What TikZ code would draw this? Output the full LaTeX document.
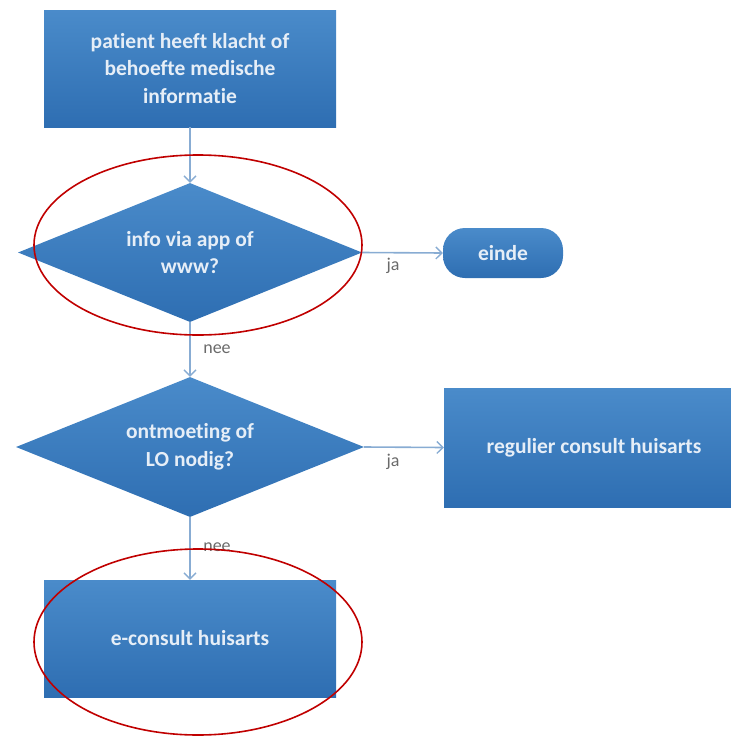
\documentclass[tikz,border=0pt]{standalone}
\usepackage{fontspec}
\setmainfont[Ligatures=NoCommon]{Carlito}
\usetikzlibrary{shapes.geometric,arrows.meta}
\definecolor{boxtop}{HTML}{4A8BCA}
\definecolor{boxbot}{HTML}{2E6EB2}
\definecolor{linec}{HTML}{88ACD3}
\definecolor{labc}{HTML}{6A6A6A}
\definecolor{txtc}{HTML}{E6EEF7}
\definecolor{ringc}{HTML}{C00000}
\tikzset{
  blk/.style={draw=none, top color=boxtop, bottom color=boxbot, text=txtc,
    font=\fontsize{21.5}{27.5}\selectfont\bfseries, align=center, inner sep=0pt},
  rectbox/.style={blk, rectangle},
  decbox/.style={blk, diamond, aspect=2.45},
  endbox/.style={blk, rectangle, rounded corners=22pt},
  conn/.style={draw=linec, line width=1.6pt, -{Straight Barb[length=6pt,width=12pt,line width=1.4pt]}},
  lab/.style={text=labc, font=\fontsize{18}{20}\selectfont, inner sep=0pt},
  ring/.style={draw=ringc, line width=1.6pt}
}
\begin{document}
\begin{tikzpicture}[x=1pt,y=-1pt]
\useasboundingbox (0,0) rectangle (731,737);
\clip (0,0) rectangle (731,737);
\node[rectbox, minimum width=292pt, minimum height=117pt] (start) at (190,68.5) {patient heeft klacht of\\behoefte medische\\informatie};
\node[decbox, minimum width=344pt, minimum height=139pt] (d1) at (190,252.5) {info via app of\\www?};
\node[endbox, minimum width=120pt, minimum height=50pt] (einde) at (503,253) {einde};
\node[decbox, minimum width=348pt, minimum height=140pt] (d2) at (190,447) {ontmoeting of\\LO nodig?};
\node[rectbox, minimum width=300pt, minimum height=119pt] (reg) at (594,447.5) {regulier consult huisarts};
\node[rectbox, minimum width=292pt, minimum height=117pt] (econ) at (190,638.5) {e-consult huisarts};

\draw[conn] (start.south) -- (d1.north);
\draw[conn] (d1.east) -- (einde.west);
\draw[conn] (d1.south) -- (d2.north);
\draw[conn] (d2.east) -- (reg.west);
\draw[conn] (d2.south) -- (econ.north);

\node[lab] (ja1) at (393,266) {ja};
\node[lab] (nee1) at (217,349) {nee};
\node[lab] (ja2) at (393,462) {ja};
\node[lab] (nee2) at (217,547) {nee};

\draw[ring] (198,245) ellipse [x radius=164pt, y radius=90pt];
\draw[ring] (198,642) ellipse [x radius=164pt, y radius=93pt];
\end{tikzpicture}
\end{document}
